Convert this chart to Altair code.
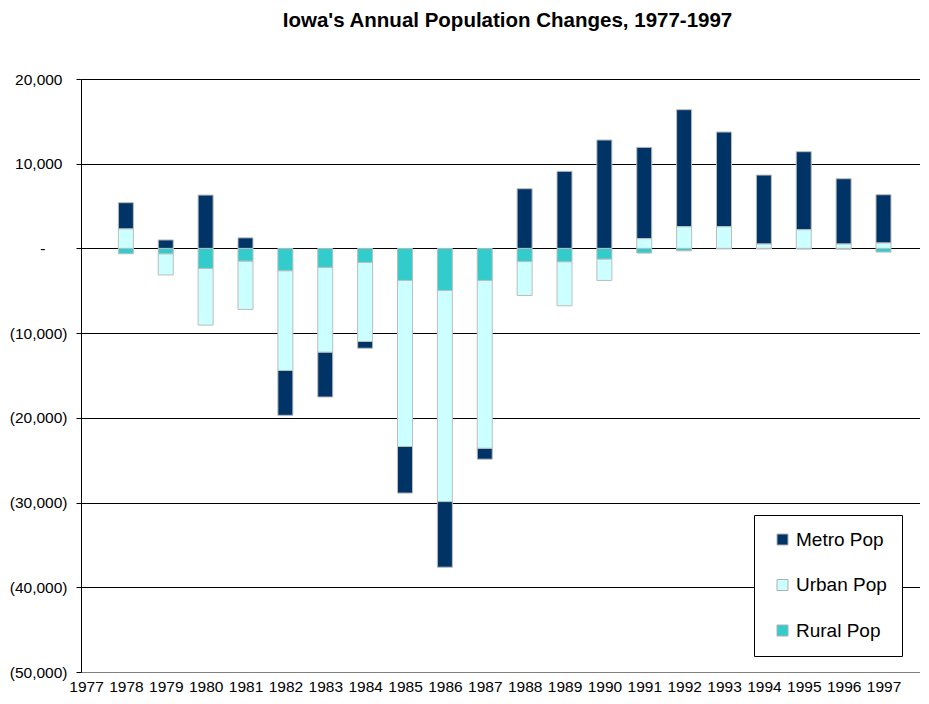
import altair as alt
import pandas as pd

years = list(range(1978, 1998))
metro = [3100, 1000, 6300, 1250, -5300, -5300, -800, -5500, -7750, -1300,
         7050, 9100, 12800, 10780, 13820, 11180, 8140, 9220, 7710, 5700]
urban = [2300, -2500, -6690, -5710, -11770, -10000, -9330, -19600, -24920, -19800,
         -4000, -5200, -2530, 1150, 2560, 2560, 520, 2200, 520, 640]
rural = [-630, -630, -2360, -1490, -2630, -2240, -1650, -3780, -4960, -3780,
         -1550, -1570, -1250, -550, -280, -60, -60, -80, -100, -430]

series = ["Metro Pop", "Urban Pop", "Rural Pop"]
colors = ["#003366", "#CCFFFF", "#33CCCC"]
stack_rank = {"Rural Pop": 0, "Urban Pop": 1, "Metro Pop": 2}
year_ticks = list(range(1977, 1998))
y_ticks = [-50000, -40000, -30000, -20000, -10000, 0, 10000, 20000]

rows = []
for i, yr in enumerate(years):
    for name, vals in (("Metro Pop", metro), ("Urban Pop", urban), ("Rural Pop", rural)):
        rows.append({"year": yr, "series": name, "value": vals[i], "rank": stack_rank[name]})
df = pd.DataFrame(rows)

FONT = "Arial, Liberation Sans, sans-serif"

chart = alt.Chart(df).mark_bar(size=15, stroke="#bdbdbd", strokeWidth=1).encode(
    x=alt.X("year:Q",
            scale=alt.Scale(domain=[1977, 1997.79], nice=False, zero=False),
            axis=alt.Axis(values=year_ticks, format="d", title=None, grid=False,
                          ticks=False, labelFlush=False, labelOverlap=False,
                          labelFont=FONT, labelFontSize=15.5, labelColor="#000000",
                          labelPadding=7, domainColor="#808080")),
    y=alt.Y("value:Q", stack="zero",
            scale=alt.Scale(domain=[-50000, 20000], nice=False),
            axis=alt.Axis(values=y_ticks, title=None, grid=True, gridColor="#000000",
                          gridWidth=1, gridOpacity=1, domainColor="#000000",
                          tickColor="#000000", tickSize=5,
                          labelExpr="datum.value == 0 ? '-' : (datum.value < 0 ? '(' + format(-datum.value, ',') + ')' : format(datum.value, ','))",
                          labelPadding={"expr": "datum.value == 0 ? 31 : (datum.value > 0 ? 14 : 9)"},
                          labelFont=FONT, labelFontSize=15.5, labelColor="#000000")),
    color=alt.Color("series:N",
                    scale=alt.Scale(domain=series, range=colors),
                    legend=alt.Legend(title=None, orient="none", legendX=673, legendY=436,
                                      direction="vertical",
                                      fillColor="#ffffff", strokeColor="#000000",
                                      padding=15, symbolOffset=4,
                                      symbolType="square", symbolSize=121,
                                      symbolStrokeColor="#b0b0b0", symbolStrokeWidth=1,
                                      labelFont=FONT, labelFontSize=19, labelColor="#000000",
                                      labelOffset=4, rowPadding=25.5, labelLimit=200)),
    order=alt.Order("rank:Q", sort="ascending"),
).properties(
    width=839,
    height=593,
    title=alt.TitleParams("Iowa's Annual Population Changes, 1977-1997",
                          font=FONT, fontSize=20.5, fontWeight="bold", color="#000000",
                          anchor="middle", dx=7, offset=41),
    autosize=alt.AutoSizeParams(type="none"),
    padding={"left": 73, "top": 71, "right": 0, "bottom": 24},
    background="#ffffff",
).configure_view(stroke=None)

chart.save("out.html", embed_options={"renderer": "svg", "actions": False})
